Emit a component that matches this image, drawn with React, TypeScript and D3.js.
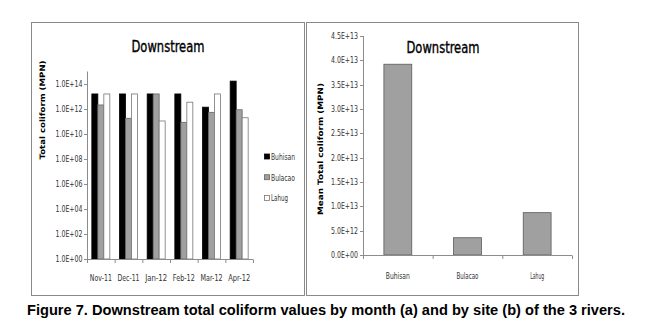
import React from "react";
import * as d3 from "d3";

const months = ["Nov-11", "Dec-11", "Jan-12", "Feb-12", "Mar-12", "Apr-12"];
const series = ["Buhisan", "Bulacao", "Lahug"];
const buhisan = [1.6e13, 1.6e13, 1.6e13, 1.6e13, 1.4e12, 1.7e14];
const bulacao = [2.1e12, 1.8e11, 1.6e13, 8.6e10, 5.4e11, 8.7e11];
const lahug = [1.6e13, 1.6e13, 1.1e11, 3.5e12, 1.6e13, 2.0e11];
const logTicks = [1, 1e2, 1e4, 1e6, 1e8, 1e10, 1e12, 1e14];
const logTickLabels = ["1.0E+00", "1.0E+02", "1.0E+04", "1.0E+06", "1.0E+08", "1.0E+10", "1.0E+12", "1.0E+14"];

const sites = ["Buhisan", "Bulacao", "Lahug"];
const siteMeans = [3.92e13, 3.55e12, 8.7e12];
const linTicks = [0, 5e12, 1e13, 1.5e13, 2e13, 2.5e13, 3e13, 3.5e13, 4e13, 4.5e13];
const linTickLabels = ["0.0E+00", "5.0E+12", "1.0E+13", "1.5E+13", "2.0E+13", "2.5E+13", "3.0E+13", "3.5E+13", "4.0E+13", "4.5E+13"];

const seriesFill = ["#000000", "#a0a0a0", "#ffffff"];
const seriesStroke = ["#000000", "#666666", "#777777"];

const narrow = "'DejaVu Sans Condensed', 'DejaVu Sans', sans-serif";
const axisColor = "#8c8c8c";
const tickStyle: React.CSSProperties = { fontStretch: "condensed" };

export default function App() {
  const data = [buhisan, bulacao, lahug];

  const x0 = d3.scaleBand<string>().domain(months).range([87, 253]).paddingInner(0.35).paddingOuter(0.175);
  const x1 = d3.scaleBand<string>().domain(series).range([0, x0.bandwidth()]);
  const yL = d3.scaleLog().domain([1, 1e15]).range([259, 71.5]);
  const stepL = x0.step();

  const xR = d3.scaleBand<string>().domain(sites).range([363, 572]).paddingInner(0.6).paddingOuter(0.3);
  const yR = d3.scaleLinear().domain([0, 4.5e13]).range([255, 36]);
  const stepR = xR.step();

  const tick = (x: number, y: number, s: string, anchor: "start" | "middle" | "end", w: number, key?: string) => (
    <text key={key} x={x} y={y} textAnchor={anchor} fontFamily={narrow} fontSize={8.5} fill="#333"
      style={tickStyle} textLength={w} lengthAdjust="spacingAndGlyphs">{s}</text>
  );

  const title = (x: number, y: number) => (
    <text x={x} y={y} textAnchor="middle" fontFamily={narrow} fontSize={15} fill="#000" stroke="#000" strokeWidth={0.35}
      style={tickStyle} textLength={73} lengthAdjust="spacingAndGlyphs">Downstream</text>
  );

  return (
    <svg width={657} height={335} style={{ position: "absolute", left: 0, top: 0, background: "#fff" }}>
      <rect x={0} y={0} width={657} height={335} fill="#fff" />
      <rect x={31.5} y={22.5} width={273} height={273} fill="none" stroke="#8a8a8a" strokeWidth={1} />
      <rect x={306.5} y={22.5} width={272} height={273} fill="none" stroke="#8a8a8a" strokeWidth={1} />

      {/* LEFT CHART */}
      {title(168, 52)}
      <text transform={`translate(45,110) rotate(-90)`} textAnchor="middle" fontFamily="'DejaVu Sans', Verdana, sans-serif" fontWeight="bold" fontSize={7.5} fill="#000" textLength={99} lengthAdjust="spacingAndGlyphs">Total coliform (MPN)</text>
      <line x1={87.5} x2={87.5} y1={yL(1e15)} y2={yL(1)} stroke={axisColor} />
      {logTicks.map((t, i) => (
        <g key={t}>
          <line x1={84} x2={87.5} y1={Math.round(yL(t)) + 0.5} y2={Math.round(yL(t)) + 0.5} stroke={axisColor} />
          {tick(82.5, yL(t) + 3, logTickLabels[i], "end", 27)}
        </g>
      ))}
      {months.map((m, mi) =>
        series.map((s, si) => {
          const v = data[si][mi];
          const x = (x0(m) as number) + (x1(s) as number);
          return (
            <rect key={m + s} x={x} y={yL(v)} width={x1.bandwidth()} height={yL(1) - yL(v)}
              fill={seriesFill[si]} stroke={seriesStroke[si]} strokeWidth={0.8} />
          );
        })
      )}
      <line x1={87} x2={253} y1={259.5} y2={259.5} stroke={axisColor} />
      {d3.range(months.length + 1).map((i) => (
        <line key={i} x1={87.5 + i * stepL} x2={87.5 + i * stepL} y1={259.5} y2={263} stroke={axisColor} />
      ))}
      {months.map((m) => tick((x0(m) as number) + x0.bandwidth() / 2, 281, m, "middle", 22, m))}
      {series.map((s, si) => (
        <g key={s}>
          <rect x={264.5} y={154 + si * 20.7} width={5} height={5} fill={seriesFill[si]} stroke={seriesStroke[si]} strokeWidth={0.8} />
          {tick(271, 160 + si * 20.7, s, "start", [24, 24, 17][si])}
        </g>
      ))}

      {/* RIGHT CHART */}
      {title(443, 53)}
      <text transform={`translate(323,149) rotate(-90)`} textAnchor="middle" fontFamily="'DejaVu Sans', Verdana, sans-serif" fontWeight="bold" fontSize={7.5} fill="#000" textLength={132} lengthAdjust="spacingAndGlyphs">Mean Total coliform (MPN)</text>
      <line x1={363.5} x2={363.5} y1={yR(4.5e13)} y2={yR(0)} stroke={axisColor} />
      {linTicks.map((t, i) => (
        <g key={t}>
          <line x1={360} x2={363.5} y1={Math.round(yR(t)) + 0.5} y2={Math.round(yR(t)) + 0.5} stroke={axisColor} />
          {tick(358, yR(t) + 3, linTickLabels[i], "end", 27)}
        </g>
      ))}
      {sites.map((s, i) => (
        <rect key={s} x={xR(s)} y={yR(siteMeans[i])} width={xR.bandwidth()} height={yR(0) - yR(siteMeans[i])}
          fill="#a0a0a0" stroke="#5a5a5a" strokeWidth={0.8} />
      ))}
      <line x1={363} x2={572} y1={255.5} y2={255.5} stroke={axisColor} />
      {d3.range(sites.length + 1).map((i) => (
        <line key={i} x1={363.5 + i * stepR} x2={363.5 + i * stepR} y1={255.5} y2={259} stroke={axisColor} />
      ))}
      {sites.map((s, i) => tick((xR(s) as number) + xR.bandwidth() / 2, 279, s, "middle", [24, 22, 14][i], s))}

      <text x={27} y={315} fontFamily="'Liberation Sans', Arial, sans-serif" fontWeight="bold" fontSize={14} fill="#000"
        textLength={598} lengthAdjust="spacingAndGlyphs">Figure 7. Downstream total coliform values by month (a) and by site (b) of the 3 rivers.</text>
    </svg>
  );
}
